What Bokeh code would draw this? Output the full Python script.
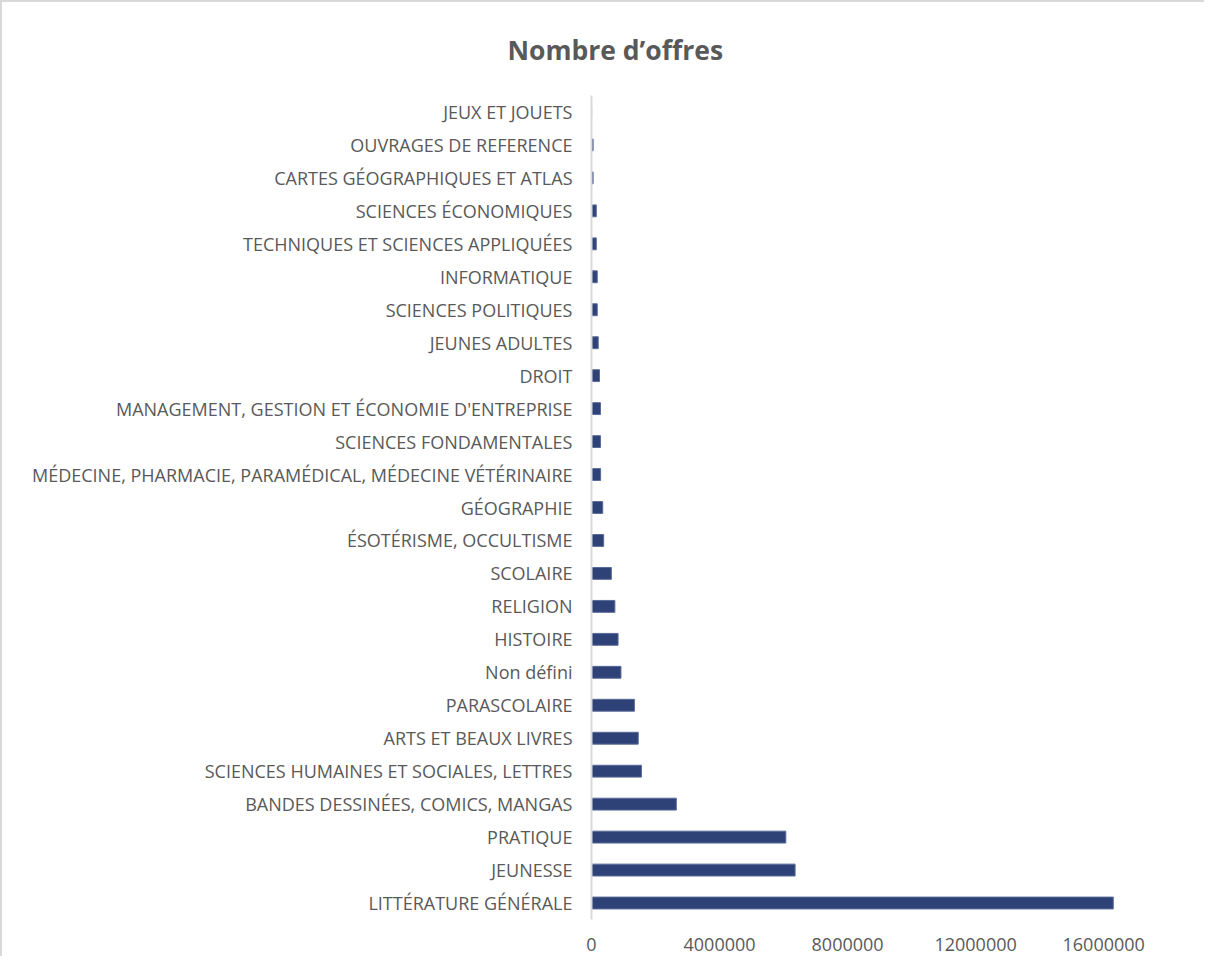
from bokeh.plotting import figure
from bokeh.models import FactorRange, Range1d, FixedTicker, BasicTickFormatter
from bokeh.embed import file_html
from bokeh.resources import INLINE

# Categories as displayed, top to bottom
categories = [
    "JEUX ET JOUETS",
    "OUVRAGES DE REFERENCE",
    "CARTES GÉOGRAPHIQUES ET ATLAS",
    "SCIENCES ÉCONOMIQUES",
    "TECHNIQUES ET SCIENCES APPLIQUÉES",
    "INFORMATIQUE",
    "SCIENCES POLITIQUES",
    "JEUNES ADULTES",
    "DROIT",
    "MANAGEMENT, GESTION ET ÉCONOMIE D'ENTREPRISE",
    "SCIENCES FONDAMENTALES",
    "MÉDECINE, PHARMACIE, PARAMÉDICAL, MÉDECINE VÉTÉRINAIRE",
    "GÉOGRAPHIE",
    "ÉSOTÉRISME, OCCULTISME",
    "SCOLAIRE",
    "RELIGION",
    "HISTOIRE",
    "Non défini",
    "PARASCOLAIRE",
    "ARTS ET BEAUX LIVRES",
    "SCIENCES HUMAINES ET SOCIALES, LETTRES",
    "BANDES DESSINÉES, COMICS, MANGAS",
    "PRATIQUE",
    "JEUNESSE",
    "LITTÉRATURE GÉNÉRALE",
]
offres = [
    3000, 50000, 50000, 150000, 150000, 180000, 180000, 210000, 250000,
    280000, 280000, 285000, 350000, 380000, 620000, 730000, 830000, 920000,
    1340000, 1460000, 1560000, 2650000, 6070000, 6360000, 16300000,
]
x_ticks = [0, 4000000, 8000000, 12000000, 16000000]
title_text = "Nombre d’offres"

TEXT = "#595959"
BAR = "#2F4277"
FONT = "Open Sans"

factors = list(reversed(categories))

p = figure(
    width=1204, height=956,
    y_range=FactorRange(factors=factors, range_padding=0),
    x_range=Range1d(0, 18.9e6),
    output_backend="svg", toolbar_location=None,
    min_border_left=589, min_border_right=10,
    min_border_top=93, min_border_bottom=39,
)
p.styles = {"border-left": "2px solid #d9d9d9", "border-top": "2px solid #d9d9d9"}

p.hbar(y=categories, right=offres, left=0, height=0.36,
       fill_color=BAR, line_color="#5a6a98", line_width=1)

p.outline_line_color = None
p.xgrid.grid_line_color = None
p.ygrid.grid_line_color = None
p.background_fill_color = "white"
p.border_fill_color = "white"

p.title.text = title_text
p.title.align = "left"
p.title.offset = -84
p.title.standoff = 55
p.title.text_font = FONT
p.title.text_font_size = "26.5px"
p.title.text_font_style = "bold"
p.title.text_color = TEXT

xa = p.xaxis[0]
xa.ticker = FixedTicker(ticks=x_ticks)
xa.formatter = BasicTickFormatter(use_scientific=False)
xa.axis_line_color = None
xa.major_tick_line_color = None
xa.minor_tick_line_color = None
xa.major_label_text_font = FONT
xa.major_label_text_font_size = "18px"
xa.major_label_text_color = TEXT
xa.major_label_standoff = 12

ya = p.yaxis[0]
ya.axis_line_color = "#d9d9d9"
ya.axis_line_width = 2
ya.major_tick_line_color = None
ya.minor_tick_line_color = None
ya.major_label_text_font = FONT
ya.major_label_text_font_size = "18px"
ya.major_label_text_color = TEXT
ya.major_label_standoff = 13

open("out.html", "w").write(file_html(p, INLINE))
